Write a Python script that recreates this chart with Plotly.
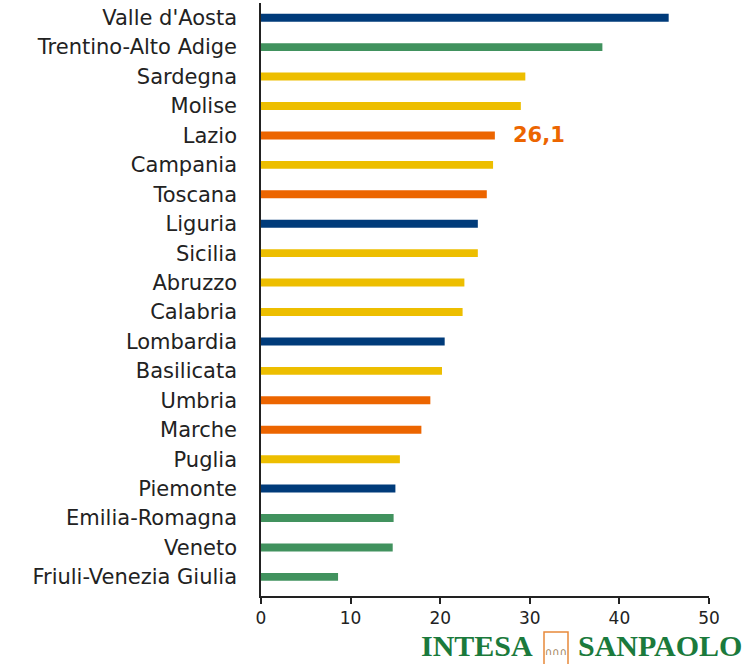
import plotly.graph_objects as go

# regioni e valori (ordine dall'alto verso il basso)
regioni = ["Valle d'Aosta", "Trentino-Alto Adige", "Sardegna", "Molise", "Lazio",
           "Campania", "Toscana", "Liguria", "Sicilia", "Abruzzo", "Calabria",
           "Lombardia", "Basilicata", "Umbria", "Marche", "Puglia", "Piemonte",
           "Emilia-Romagna", "Veneto", "Friuli-Venezia Giulia"]
valori = [45.5, 38.1, 29.5, 29.0, 26.1, 25.9, 25.2, 24.2, 24.2, 22.7, 22.5,
          20.5, 20.2, 18.9, 17.9, 15.5, 15.0, 14.8, 14.7, 8.6]
# area geografica: NO = nord-ovest, NE = nord-est, C = centro, S = sud e isole
area = ["NO", "NE", "S", "S", "C", "S", "C", "NO", "S", "S", "S",
        "NO", "S", "C", "C", "S", "NO", "NE", "NE", "NE"]
colori_area = {"NO": "#003B7A", "NE": "#41925E", "C": "#EC6500", "S": "#EDBE00"}

tick_x = [0, 10, 20, 30, 40, 50]

fig = go.Figure(go.Bar(
    x=valori, y=regioni, orientation="h",
    marker=dict(color=[colori_area[a] for a in area], line_width=0),
    width=0.27, showlegend=False, hoverinfo="skip"))

# etichetta Lazio
fig.add_annotation(x=27.9, y="Lazio", text="<b>26,1</b>", showarrow=False,
                   xanchor="left", yanchor="middle",
                   font=dict(family="DejaVu Sans", size=21, color="#EC6500"))

# logo in basso a destra
px_x = lambda p: (p - 261) / 448
px_y = lambda p: (596 - p) / 593
fig.add_annotation(xref="paper", yref="paper", x=px_x(535), y=px_y(664),
                   text="<b>INTESA</b>", showarrow=False, xanchor="right", yanchor="bottom",
                   font=dict(family="Liberation Serif", size=30, color="#1B7A3C"))
fig.add_annotation(xref="paper", yref="paper", x=px_x(576), y=px_y(664),
                   text="<b>SANPAOLO</b>", showarrow=False, xanchor="left", yanchor="bottom",
                   font=dict(family="Liberation Serif", size=30, color="#1B7A3C"))
fig.add_shape(type="rect", xref="paper", yref="paper",
              x0=px_x(544), x1=px_x(568), y0=px_y(666), y1=px_y(632),
              line=dict(color="#E8893A", width=1.5), fillcolor="white")
fig.add_annotation(xref="paper", yref="paper", x=px_x(556), y=px_y(652),
                   text="∩∩∩", showarrow=False, xanchor="center", yanchor="middle",
                   font=dict(family="DejaVu Sans", size=10, color="#9A7A50"))

fig.update_layout(
    width=750, height=664,
    margin=dict(l=261, r=41, t=3, b=68),
    paper_bgcolor="white", plot_bgcolor="white",
    font=dict(family="DejaVu Sans", color="#222222"),
    bargap=0.7, hovermode=False,
)
fig.update_xaxes(range=[0, 50], tickvals=tick_x, showgrid=False, zeroline=False,
                 showline=True, linecolor="#222222", linewidth=1.5,
                 ticks="outside", ticklen=6, tickwidth=1.5, tickcolor="#222222",
                 tickfont=dict(size=17, color="#222222"))
fig.update_yaxes(categoryorder="array", categoryarray=regioni, range=[19.65, -0.5],
                 showgrid=False, zeroline=False, showline=True, linecolor="#222222",
                 linewidth=1.5, ticks="", ticklabelstandoff=18,
                 tickfont=dict(size=21, color="#222222"))

fig.write_html("out.html", config={"displayModeBar": False},
               post_script="document.body.style.margin='0';")
